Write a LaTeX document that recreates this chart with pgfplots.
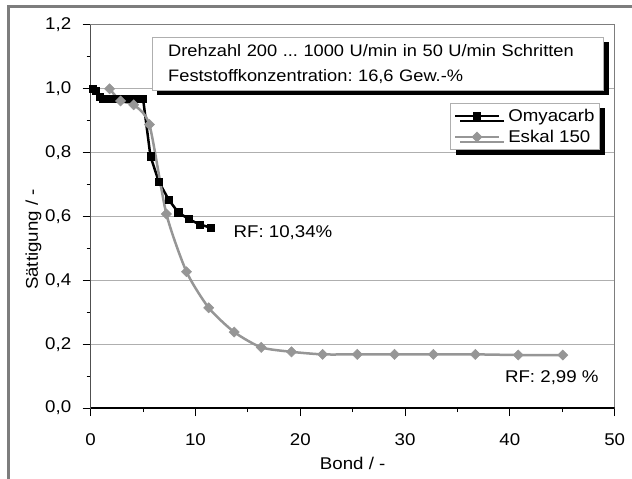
\documentclass[border=0pt]{standalone}
\usepackage{fontspec}
\setmainfont{Liberation Sans}[FakeStretch=1.1]
\usepackage{pgfplots}
\pgfplotsset{compat=1.18}
\usetikzlibrary{shadows}
\definecolor{eskal}{RGB}{150,150,150}
\definecolor{gridgray}{RGB}{175,175,175}
\definecolor{framegray}{RGB}{125,125,125}
\newcommand{\chartfont}{\fontsize{17}{20}\selectfont}
\frenchspacing

\begin{document}
\begin{tikzpicture}
\useasboundingbox (-90.7pt,-71pt) rectangle (541.3pt,408pt);
% chart area frame (cut off on right and bottom)
\draw[framegray, line width=3pt] (-81.7pt,-75pt) -- (-81.7pt,401pt) -- (545pt,401pt);

\begin{axis}[
  at={(0pt,0pt)}, anchor=south west,
  scale only axis, width=524pt, height=383pt,
  xmin=0, xmax=50, ymin=0, ymax=1.2,
  xtick={0,10,20,30,40,50}, minor xtick={5,15,25,35,45},
  ytick={0,0.2,0.4,0.6,0.8,1.0,1.2}, minor ytick={0.1,0.3,0.5,0.7,0.9,1.1},
  tick align=outside, tick pos=left,
  major tick length=8pt, minor tick length=4pt,
  tick style={black, line width=1pt},
  axis line style={draw=framegray, line width=1pt},
  ymajorgrids, major grid style={gridgray, line width=1pt},
  /pgf/number format/assume math mode=true,
  ticklabel style={font=\chartfont},
  yticklabel style={xshift=-8pt, /pgf/number format/.cd, fixed, fixed zerofill, precision=1, use comma},
  xticklabel style={yshift=-14pt, /pgf/number format/.cd, fixed, precision=0},
  xlabel={Bond / -}, ylabel={Sättigung / -},
  label style={font=\chartfont},
  xlabel style={at={(axis description cs:0.5,-0.1436)}, anchor=center},
  ylabel style={at={(axis description cs:-0.109,0.44)}, anchor=center},
  legend cell align=left,
  legend image code/.code={\draw[mark repeat=2,mark phase=2,#1] plot coordinates {(0pt,0pt) (22pt,0pt) (44pt,0pt)};},
  legend style={at={(0.972,0.797)}, anchor=north east, draw=gridgray, fill=white,
    line width=1pt, font=\chartfont, nodes={font=\chartfont, inner xsep=2pt, inner ysep=2pt},
    row sep=3pt, inner xsep=3pt, inner ysep=4pt,
    /tikz/every odd column/.append style={column sep=6pt},
    drop shadow={shadow xshift=5pt, shadow yshift=-5pt, fill=black, opacity=1}},
]
\addplot[black, line width=2.5pt, mark=square*, mark size=3.6pt,
  mark options={solid, line width=0.5pt}] coordinates {
  (0.2,1.0) (0.5,0.995) (0.85,0.975) (1.2,0.968) (1.6,0.968) (2.0,0.968)
  (2.5,0.968) (3.0,0.968) (3.5,0.968) (4.0,0.968) (4.5,0.968) (5.0,0.968)
  (5.7,0.789) (6.5,0.709) (7.45,0.652) (8.35,0.613) (9.35,0.592)
  (10.4,0.575) (11.45,0.565)
};
\addlegendentry{Omyacarb}
\addplot[eskal, line width=2.5pt, smooth, tension=0.4, mark=square*, mark size=3.6pt,
  mark options={solid, rotate=45, fill=eskal, line width=0.5pt}] coordinates {
  (1.8,1.0) (2.85,0.962) (4.1,0.95) (5.6,0.888) (7.22,0.608) (9.14,0.427)
  (11.26,0.314) (13.69,0.238) (16.27,0.19) (19.16,0.176) (22.13,0.168)
  (25.44,0.168) (28.99,0.168) (32.7,0.168) (36.7,0.168) (40.8,0.166)
  (45.05,0.166)
};
\addlegendentry{Eskal 150}
\draw[black, line width=1.2pt] (rel axis cs:0,1) -- (rel axis cs:0,0) -- (rel axis cs:1,0);
\node[anchor=west, font=\chartfont] at (axis cs:13.3,0.548) {RF: 10,34\%};
\node[anchor=west, font=\chartfont] at (axis cs:39.2,0.096) {RF: 2,99 \%};
\end{axis}

\node[draw=gridgray, fill=white, line width=1pt,
  drop shadow={shadow xshift=5pt, shadow yshift=-5pt, fill=black, opacity=1},
  anchor=north west, minimum width=451.6pt, minimum height=53.3pt,
  text width=419.6pt, inner xsep=16pt, align=left,
  font=\fontsize{16.6}{25}\selectfont] at (61pt,371.3pt)
  {Drehzahl 200 ... 1000 U/min in 50 U/min Schritten\\Feststoffkonzentration: 16,6 Gew.-\%};
\end{tikzpicture}
\end{document}
